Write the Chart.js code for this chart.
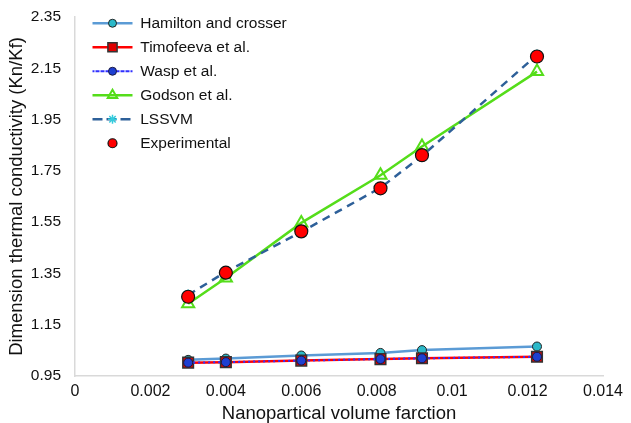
<!DOCTYPE html>
<html>
<head>
<meta charset="utf-8">
<script src="https://cdn.jsdelivr.net/npm/chart.js@4/dist/chart.umd.min.js"></script>
<style>
html,body{margin:0;padding:0;background:#fff;}
#wrap{width:631px;height:423px;position:relative;}
</style>
</head>
<body>
<div id="wrap"><canvas id="c" width="631" height="423"></canvas></div>
<script>
// ---- data ----
const volumeFraction = [0.003, 0.004, 0.006, 0.0081, 0.0092, 0.01225];
const hamilton     = [1.013, 1.018, 1.030, 1.040, 1.051, 1.065];
const timofeeva    = [1.002, 1.004, 1.010, 1.016, 1.019, 1.025];
const wasp         = [1.002, 1.004, 1.010, 1.016, 1.019, 1.025];
const godson       = [1.232, 1.332, 1.547, 1.733, 1.845, 2.137];
const lssvm        = [1.266, 1.356, 1.512, 1.684, 1.808, 2.202];
const experimental = [1.259, 1.353, 1.514, 1.682, 1.811, 2.196];
const seriesNames  = ['Hamilton and crosser', 'Timofeeva et al.', 'Wasp et al.', 'Godson et al.', 'LSSVM', 'Experimental'];
const xTicks = [0, 0.002, 0.004, 0.006, 0.008, 0.010, 0.012, 0.014];
const xTickLabels = ['0', '0.002', '0.004', '0.006', '0.008', '0.01', '0.012', '0.014'];
const yTicks = [0.95, 1.15, 1.35, 1.55, 1.75, 1.95, 2.15, 2.35];
const yTickLabels = ['0.95', '1.15', '1.35', '1.55', '1.75', '1.95', '2.15', '2.35'];
const xTitle = 'Nanopartical volume farction';
const yTitle = 'Dimension thermal conductivity (Kn/Kf)';

const pts = arr => arr.map((v, i) => ({x: volumeFraction[i], y: v}));
const FONT = "'Liberation Sans', Arial, Helvetica, sans-serif";

const datasets = [
  {label: seriesNames[0], data: pts(hamilton), showLine: true, order: 3,
   borderColor: '#5B9BD5', borderWidth: 2.5,
   pointStyle: 'circle', pointRadius: 4.5, legendRadius: 4, pointBackgroundColor: '#2BB9C9', pointBorderColor: '#222', pointBorderWidth: 1},
  {label: seriesNames[1], data: pts(timofeeva), showLine: true, order: 2,
   borderColor: '#FF0000', borderWidth: 2.5,
   pointStyle: 'rect', pointRadius: 7.5, legendRadius: 6.5, pointBackgroundColor: '#E00000', pointBorderColor: '#333', pointBorderWidth: 1.5},
  {label: seriesNames[2], data: pts(wasp), showLine: true, order: 1,
   borderColor: '#3030FF', borderWidth: 2, borderDash: [2, 3],
   pointStyle: 'circle', pointRadius: 4.5, legendRadius: 4, pointBackgroundColor: '#1E3FD2', pointBorderColor: '#1a1a40', pointBorderWidth: 1},
  {label: seriesNames[3], data: pts(godson), showLine: true, order: 5,
   borderColor: '#55DD1A', borderWidth: 2.5,
   pointStyle: 'triangle', pointRadius: 7, legendRadius: 5.5, pointBackgroundColor: 'rgba(255,255,255,0)', pointBorderColor: '#55DD1A', pointBorderWidth: 2},
  {label: seriesNames[4], data: pts(lssvm), showLine: true, order: 4,
   borderColor: '#2E6099', borderWidth: 2.5, borderDash: [8, 6],
   pointStyle: 'star', pointRadius: 5.5, legendRadius: 4.5, pointBackgroundColor: '#33CCDD', pointBorderColor: '#33CCDD', pointBorderWidth: 1.5},
  {label: seriesNames[5], data: pts(experimental), showLine: false, order: 0,
   borderColor: '#111', borderWidth: 0,
   pointStyle: 'circle', pointRadius: 6.5, legendRadius: 4.5, pointBackgroundColor: '#FF0000', pointBorderColor: '#111', pointBorderWidth: 1.2}
];

// draws the series marker on top of each legend line sample
const legendMarkers = {
  id: 'legendMarkers',
  afterLayout(chart) {
    const lg = chart.legend;
    if (!lg) return;
    const dx = 9, dy = 7;
    lg.left += dx; lg.right += dx; lg.top += dy; lg.bottom += dy;
  },
  afterDraw(chart) {
    const lg = chart.legend;
    if (!lg || !lg.legendHitBoxes) return;
    const ctx = chart.ctx;
    const bw = lg.options.labels.boxWidth;
    lg.legendItems.forEach((item, i) => {
      const hb = lg.legendHitBoxes[i];
      const ds = chart.data.datasets[item.datasetIndex];
      const cx = hb.left + bw / 2;
      const cy = hb.top + hb.height / 2;
      ctx.save();
      ctx.fillStyle = ds.pointBackgroundColor;
      ctx.strokeStyle = ds.pointBorderColor;
      ctx.lineWidth = ds.pointBorderWidth;
      ctx.setLineDash([]);
      Chart.helpers.drawPoint(ctx, {pointStyle: ds.pointStyle, radius: ds.legendRadius, rotation: 0, borderWidth: ds.pointBorderWidth}, cx, cy);
      ctx.restore();
    });
  }
};

new Chart(document.getElementById('c'), {
  type: 'scatter',
  data: {datasets},
  plugins: [legendMarkers],
  options: {
    responsive: false,
    animation: false,
    layout: {padding: {left: 0, right: 28, top: 17, bottom: 0}},
    plugins: {
      tooltip: {enabled: false},
      legend: {
        position: 'chartArea',
        align: 'start',
        labels: {
          boxWidth: 40, boxHeight: 0, padding: 8.5,
          color: '#111',
          font: {family: FONT, size: 15.5},
          sort: (a, b) => a.datasetIndex - b.datasetIndex,
          generateLabels(chart) {
            const items = Chart.defaults.plugins.legend.labels.generateLabels(chart);
            items.forEach(it => {
              it.fillStyle = 'rgba(0,0,0,0)';
              if (it.datasetIndex === 5) { it.lineWidth = 0; it.strokeStyle = 'rgba(0,0,0,0)'; }
            });
            return items;
          }
        }
      }
    },
    scales: {
      x: {
        type: 'linear', min: 0, max: 0.014,
        grid: {display: false},
        border: {display: true, color: '#D9D9D9', width: 1.5},
        afterBuildTicks: s => { s.ticks = xTicks.map(v => ({value: v})); },
        afterFit: s => { s.height = 47; },
        ticks: {
          color: '#111', padding: -2, maxRotation: 0, autoSkip: false,
          font: {family: FONT, size: 16},
          callback: (v, i) => xTickLabels[i]
        },
        title: {display: true, text: xTitle, color: '#111',
          font: {family: FONT, size: 18.5, lineHeight: 1.0}, padding: {top: 0, bottom: 0}}
      },
      y: {
        type: 'linear', min: 0.95, max: 2.35,
        grid: {display: false},
        border: {display: true, color: '#D9D9D9', width: 1.5},
        afterBuildTicks: s => { s.ticks = yTicks.map(v => ({value: v})); },
        afterFit: s => { s.width = 75; },
        ticks: {
          color: '#111', padding: 6, autoSkip: false,
          font: {family: FONT, size: 15.5},
          callback: (v, i) => yTickLabels[i]
        },
        title: {display: true, text: yTitle, color: '#111',
          font: {family: FONT, size: 18.5, lineHeight: 1.1}, padding: {top: 7, bottom: 0}}
      }
    }
  }
});
</script>
</body>
</html>
